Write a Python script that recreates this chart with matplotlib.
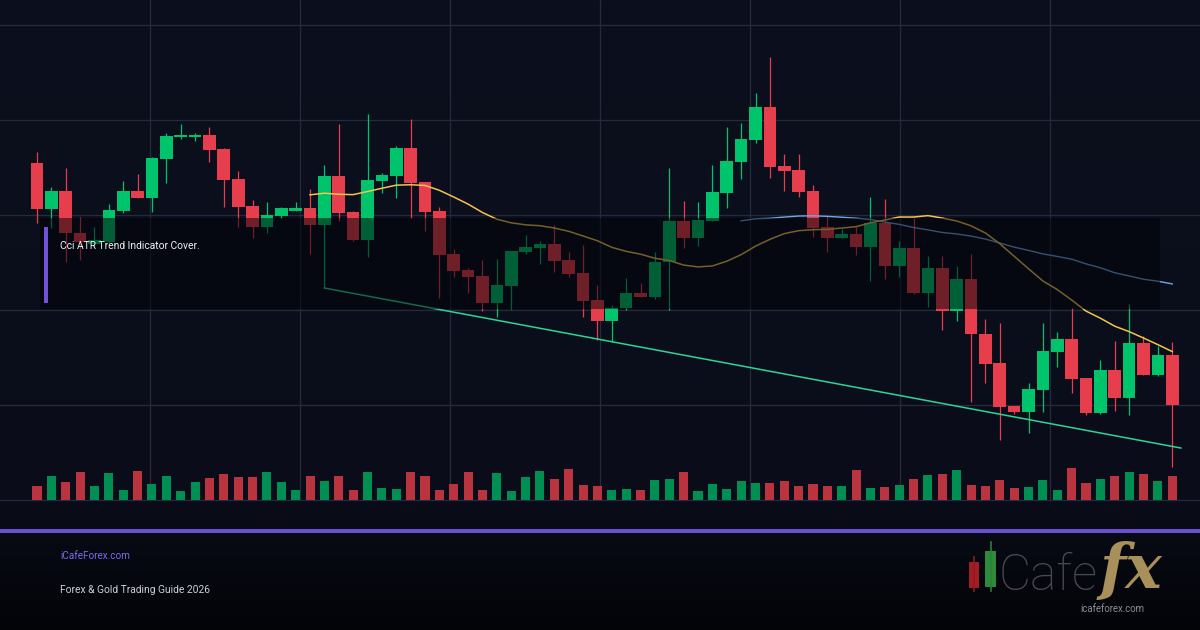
import numpy as np
import pandas as pd
import matplotlib
matplotlib.use("Agg")
import matplotlib.pyplot as plt
from matplotlib.patches import Rectangle
from matplotlib import font_manager

# ---------------- data ----------------
opens = [43.73, 39.13, 40.93, 36.67, 35.60, 35.80, 38.93, 40.90, 40.23, 44.13,
         46.27, 46.27, 46.50, 45.10, 42.10, 39.40, 37.33, 38.40, 38.93, 39.20,
         37.50, 42.40, 38.83, 36.00, 41.90, 42.40, 45.23, 41.83, 38.93, 34.60,
         33.00, 32.43, 29.73, 31.43, 34.83, 35.23, 35.60, 34.00, 32.67, 30.00,
         27.93, 29.23, 30.73, 30.33, 33.83, 37.90, 36.23, 37.93, 40.73, 43.83,
         46.00, 49.33, 43.40, 43.00, 40.90, 37.27, 36.23, 36.60, 35.33, 37.67,
         33.40, 35.23, 30.73, 33.20, 28.93, 32.10, 26.60, 23.73, 19.43, 18.83,
         21.00, 24.83, 26.10, 22.23, 18.67, 23.00, 20.23, 25.73, 22.50, 24.50]
closes = [39.13, 40.93, 36.67, 35.80, 36.00, 39.00, 40.90, 40.23, 44.17, 46.40,
          46.50, 46.50, 45.03, 42.03, 39.33, 37.33, 38.50, 39.20, 39.20, 37.50,
          42.40, 38.73, 36.00, 42.00, 42.50, 45.23, 41.73, 38.83, 34.50, 32.93,
          32.33, 29.73, 31.50, 34.90, 35.30, 35.57, 33.90, 32.60, 29.90, 27.90,
          29.25, 30.73, 30.33, 33.83, 37.90, 36.23, 38.00, 40.80, 43.90, 46.10,
          49.33, 43.33, 42.93, 40.83, 37.23, 36.23, 36.57, 35.33, 37.73, 33.40,
          35.23, 30.67, 33.20, 28.93, 32.10, 26.57, 23.60, 19.33, 18.83, 21.10,
          24.90, 26.10, 22.13, 18.67, 23.00, 20.23, 25.73, 22.50, 24.50, 19.50]
highs = [44.80, 41.27, 43.17, 38.30, 37.30, 39.60, 41.90, 42.60, 44.33, 46.73,
         47.60, 46.73, 47.33, 45.23, 42.93, 40.00, 39.77, 39.30, 39.77, 41.10,
         43.50, 47.60, 38.93, 48.60, 42.73, 45.43, 48.10, 41.83, 39.27, 35.10,
         33.17, 34.00, 34.10, 34.90, 36.50, 35.90, 37.50, 34.83, 35.50, 31.50,
         29.50, 32.17, 31.73, 34.83, 43.23, 39.90, 39.80, 43.50, 47.27, 47.73,
         50.73, 54.33, 44.60, 44.60, 41.50, 38.27, 37.07, 37.27, 40.33, 40.10,
         35.90, 38.17, 34.40, 34.40, 33.43, 34.60, 28.10, 27.73, 19.43, 21.67,
         27.67, 26.83, 29.17, 22.23, 24.00, 25.93, 29.60, 26.40, 25.40, 25.83]
lows = [37.73, 37.17, 33.83, 34.00, 35.30, 35.70, 38.73, 40.23, 38.83, 41.67,
        46.13, 45.93, 43.77, 39.33, 37.33, 36.23, 36.73, 38.23, 38.93, 34.57,
        31.20, 37.93, 35.93, 34.33, 40.67, 40.23, 38.23, 36.93, 30.23, 32.33,
        30.73, 28.90, 28.33, 29.10, 34.57, 33.60, 32.83, 32.33, 28.33, 26.00,
        25.83, 29.00, 30.33, 30.07, 29.00, 35.23, 35.43, 37.93, 39.17, 42.10,
        45.73, 42.23, 40.93, 40.33, 36.33, 34.83, 36.23, 34.50, 31.93, 32.07,
        32.33, 30.57, 29.33, 27.00, 27.93, 19.80, 21.73, 16.00, 18.60, 16.73,
        18.83, 23.33, 20.67, 18.50, 18.60, 18.93, 18.50, 22.50, 22.40, 13.27]
volumes = [1430, 2430, 1830, 2830, 1430, 2730, 1030, 2930, 1630, 2430,
           930, 1830, 2230, 2630, 2330, 2330, 2830, 1830, 1030, 2430,
           1930, 2430, 1030, 2830, 1230, 1130, 2830, 2430, 1030, 1630,
           2830, 1030, 2730, 930, 2330, 2930, 2130, 3130, 1530, 1430,
           1030, 1130, 1030, 2030, 2130, 2830, 930, 1630, 1130, 1930,
           1730, 1730, 1930, 1430, 1630, 1430, 1430, 3030, 1230, 1330,
           1530, 2130, 2530, 2630, 3030, 1530, 1430, 2030, 1230, 1330,
           2030, 1030, 3230, 1730, 2130, 2430, 2830, 2630, 1930, 2430]
trend_anchors = [20, 40]          # candles whose lows define the support line
overlay_label = "Cci ATR Trend Indicator Cover."
footer_site = "iCafeForex.com"
footer_title = "Forex & Gold Trading Guide 2026"

# ---------------- styling ----------------
W, H = 1200, 630
UP, DOWN = "#00c46b", "#e63e4c"
VUP, VDOWN = "#008f52", "#b9343f"
names = {f.name for f in font_manager.fontManager.ttflist}
if "Liberation Sans Narrow" in names:
    FONT, FS = "Liberation Sans Narrow", 1.0
else:
    FONT, FS = "Roboto", 0.83

fig = plt.figure(figsize=(12, 6.3), dpi=100)

# background (pixel coordinates)
bg = fig.add_axes([0, 0, 1, 1], zorder=0)
bg.set_xlim(0, W)
bg.set_ylim(H, 0)
bg.axis("off")
ys = np.linspace(0, H, 300)
c_top = np.array([12, 16, 30]) / 255
c_mid = np.array([10, 13, 25]) / 255
c_bot = np.array([3, 4, 8]) / 255
cols = np.where((ys < 500)[:, None],
                c_top + (c_mid - c_top) * (ys / 500)[:, None],
                c_mid + (c_bot - c_mid) * ((ys - 500) / 130).clip(0, 1)[:, None])
bg.imshow(cols[:, None, :], extent=(0, W, H, 0), aspect="auto", zorder=0)
grid_c = "#252a3d"
for gy in [25, 120, 215, 310, 405, 500]:
    bg.plot([0, W], [gy, gy], color=grid_c, lw=0.9, zorder=1)
for gx in [150, 300, 450, 600, 750, 900, 1050]:
    bg.plot([gx, gx], [0, 500], color=grid_c, lw=0.9, zorder=1)
bg.plot([0, W], [531, 531], color="#6b4fd3", lw=2.9, zorder=1)

# price axes
n = len(closes)
x = np.arange(n)
step = 14.37
ax = fig.add_axes([0, 130 / 630, 1, 500 / 630], zorder=1)
ax.set_facecolor("none")
ax.set_xlim(-37 / step, (W - 37) / step)
ax.set_ylim(10, 60)
ax.axis("off")

o = np.array(opens); c = np.array(closes)
hi = np.array(highs); lo = np.array(lows)
up = c >= o
colors = np.where(up, UP, DOWN)
ax.vlines(x, lo, hi, colors=colors, lw=0.9, zorder=2)
body_h = np.maximum(np.abs(c - o), 0.25)
ax.bar(x, body_h, bottom=np.minimum(o, c), width=0.88, color=colors,
       lw=0, zorder=3)

close_s = pd.Series(closes)
ma20 = close_s.rolling(20).mean()
ma50 = close_s.rolling(50).mean()
ax.plot(x, ma50, color="#6fa6e4", lw=1.0, zorder=4)
ax.plot(x, ma20, color="#f3c34f", lw=1.1, zorder=4)

a, b = trend_anchors
slope = (lows[b] - lows[a]) / (b - a)
tx = np.array([a, n - 1 + 0.6])
ax.plot(tx, lows[a] + slope * (tx - a), color="#2fd494", lw=1.1, zorder=4)

# volume axes
axv = fig.add_axes([0, 130 / 630, 1, 500 / 630], zorder=1)
axv.set_facecolor("none")
axv.set_xlim(ax.get_xlim())
axv.set_ylim(0, 50000)
axv.axis("off")
axv.bar(x, volumes, width=0.63, color=np.where(up, VUP, VDOWN), lw=0)

# overlay / annotations (pixel coordinates)
ov = fig.add_axes([0, 0, 1, 1], zorder=2)
ov.set_facecolor("none")
ov.set_xlim(0, W)
ov.set_ylim(H, 0)
ov.axis("off")
ov.add_patch(Rectangle((40, 218), 1120, 91, facecolor="#020308", alpha=0.52,
                       lw=0))
ov.add_patch(Rectangle((43.5, 227), 4, 76, facecolor="#7052d8", lw=0))
ov.text(60, 246, overlay_label, color="#f0f0f5", fontsize=8.9 * FS, family=FONT,
        va="center", ha="left")
ov.text(60, 556, footer_site, color="#7c68ee", fontsize=8.6 * FS, family=FONT,
        va="center", ha="left")
ov.text(60, 590, footer_title, color="#cfd1da", fontsize=8.9 * FS, family=FONT,
        va="center", ha="left")

# logo
ov.plot([974, 974], [557, 591], color="#8c1c22", lw=1.2)
ov.add_patch(Rectangle((969, 562), 10, 26, facecolor="#a51d24", lw=0))
ov.plot([990.5, 990.5], [542, 591], color="#2b7f3a", lw=1.2)
ov.add_patch(Rectangle((985, 551), 11, 36, facecolor="#2e8b3e", lw=0))
ov.text(999, 590, "Cafe", color="#4a4a4f", fontsize=43 * FS, family=FONT,
        weight="light", va="baseline", ha="left")
ov.text(1100, 588, "fx", color="#a8905a", fontsize=44, family="DejaVu Serif",
        style="italic", weight="bold", va="baseline", ha="left")
ov.text(1112, 609, "icafeforex.com", color="#8d8d93", fontsize=7.6 * FS + 0.6,
        family=FONT, va="center", ha="center")

fig.savefig("out.png", dpi=100, facecolor="#0b0e1a")
